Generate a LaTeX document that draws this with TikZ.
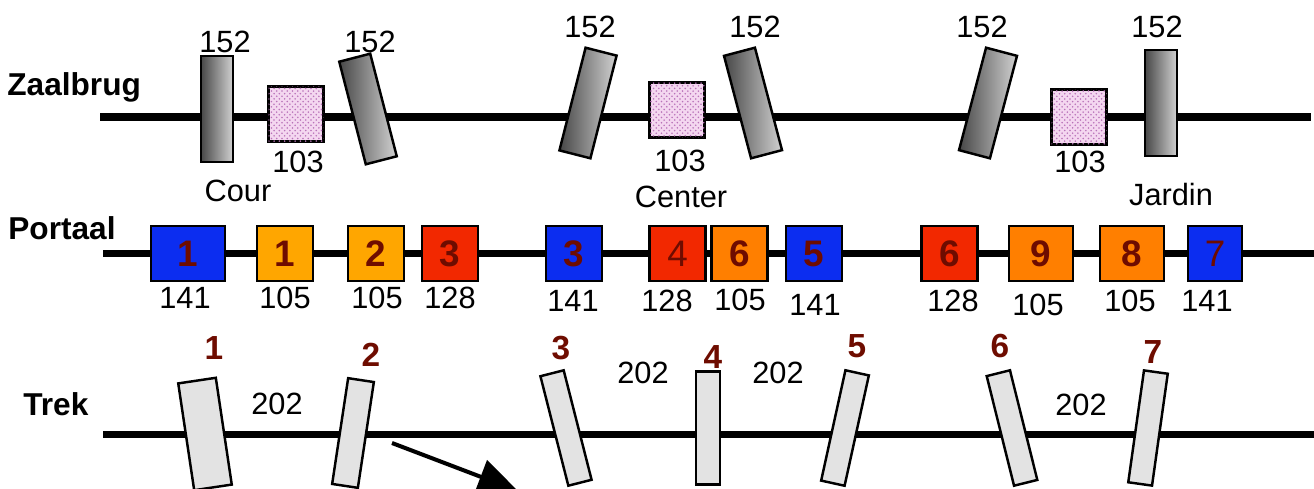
\documentclass[tikz,border=0pt]{standalone}
\usepackage{fontspec}
\setmainfont{Liberation Sans}
\usetikzlibrary{positioning,arrows.meta,patterns}

\definecolor{lampblue}{RGB}{12,45,240}
\definecolor{lampamber}{RGB}{255,166,0}
\definecolor{lamporange}{RGB}{255,127,0}
\definecolor{lampred}{RGB}{242,40,0}
\definecolor{numred}{RGB}{110,12,0}
\definecolor{specpink}{RGB}{244,215,240}

\begin{document}
\begin{tikzpicture}[x=0.02cm, y=-0.02cm,
	rail/.style={line width=4.4pt},
	txt/.style={font=\fontsize{17.5}{20}\selectfont, inner sep=0pt},
	rowname/.style={font=\fontsize{18}{21}\selectfont\bfseries, inner sep=0pt, anchor=base west},
	bar/.style={draw, line width=1.4pt, inner sep=0pt, minimum width=0.64cm, minimum height=2.12cm, left color=black!72, right color=black!18},
	scroller/.style={draw, line width=1.4pt, inner sep=0pt, minimum size=1.1cm, fill=specpink, postaction={pattern=crosshatch dots, pattern color=violet!55}},
	lamp/.style={draw, line width=1.4pt, inner sep=0pt, minimum height=1.1cm, minimum width=1.12cm, fill=#1, text=numred, font=\fontsize{21}{24}\selectfont\bfseries},
	flood/.style={draw, line width=1.4pt, inner sep=0pt, minimum width=0.48cm, minimum height=2.26cm, fill=black!11},
	tnum/.style={font=\fontsize{19}{22}\selectfont\bfseries, text=numred, inner sep=0pt}]
\useasboundingbox (0,0) rectangle (1314,489);

\coordinate (zl) at (100,117);	\coordinate (zr) at (1311,117);
\coordinate (pl) at (103,253.5);	\coordinate (pr) at (1314,253.5);
\coordinate (tl) at (103,434.5);	\coordinate (tr) at (1314,434.5);
\draw[rail] (zl) -- (zr);
\draw[rail] (pl) -- (pr);
\draw[rail] (tl) -- (tr);

\node[rowname]	(n_z)	at (7,96)	{Zaalbrug};
\node[rowname]	(n_p)	at (8,240)	{Portaal};
\node[rowname]	(n_t)	at (23,415)	{Trek};

\node[bar]					(z_1)	at (217,109)	{};
\node[scroller]				(z_2)	at (296,114)	{};
\node[bar, rotate=14.5]		(z_3)	at (368,109)	{};
\node[bar, rotate=-14.3]	(z_4)	at (588,103)	{};
\node[scroller]				(z_5)	at (677,110)	{};
\node[bar, rotate=14.8]		(z_6)	at (753,103)	{};
\node[bar, rotate=-14.8]	(z_7)	at (988,103)	{};
\node[scroller]				(z_8)	at (1079,117)	{};
\node[bar]					(z_9)	at (1161,103)	{};

\node[txt]	(zl_1)	at (225,42)		{152};
\node[txt]	(zl_2)	at (298,162)	{103};
\node[txt]	(zl_3)	at (370,42)		{152};
\node[txt]	(zl_4)	at (590,27)		{152};
\node[txt]	(zl_5)	at (680,161)	{103};
\node[txt]	(zl_6)	at (755,27)		{152};
\node[txt]	(zl_7)	at (982,27)		{152};
\node[txt]	(zl_8)	at (1080,162)	{103};
\node[txt]	(zl_9)	at (1157,27)	{152};
\node[txt]	(cour)		at (238,191)	{Cour};
\node[txt]	(center)	at (681,197)	{Center};
\node[txt]	(jardin)	at (1171,195)	{Jardin};

\node[lamp=lampblue, minimum width=1.48cm]		(p_1)	at (188,253.5)		{1};
\node[lamp=lampamber]							(p_2)	at (285,253.5)		{1};
\node[lamp=lampamber]							(p_3)	at (376,253.5)		{2};
\node[lamp=lampred]								(p_4)	at (450,253.5)		{3};
\node[lamp=lampblue]							(p_5)	at (574,253.5)		{3};
\node[lamp=lampred, font=\fontsize{21}{24}\selectfont]	(p_6)	at (677.5,253.5)	{4};
\node[lamp=lamporange]							(p_7)	at (739.5,253.5)	{6};
\node[lamp=lampblue]							(p_8)	at (814,253.5)		{5};
\node[lamp=lampred]								(p_9)	at (949.5,253.5)	{6};
\node[lamp=lamporange, minimum width=1.28cm]	(p_10)	at (1041,253.5)		{9};
\node[lamp=lamporange, minimum width=1.28cm]	(p_11)	at (1132,253.5)		{8};
\node[lamp=lampblue, minimum width=1.08cm, font=\fontsize{21}{24}\selectfont]	(p_12)	at (1215,253.5)	{7};

\node[txt]	(pl_1)	at (185,298)	{141};
\node[txt]	(pl_2)	at (285,298)	{105};
\node[txt]	(pl_3)	at (377,298)	{105};
\node[txt]	(pl_4)	at (450,298)	{128};
\node[txt]	(pl_5)	at (573,301)	{141};
\node[txt]	(pl_6)	at (667,301)	{128};
\node[txt]	(pl_7)	at (740,300)	{105};
\node[txt]	(pl_8)	at (815,305)	{141};
\node[txt]	(pl_9)	at (953,301)	{128};
\node[txt]	(pl_10)	at (1038,305)	{105};
\node[txt]	(pl_11)	at (1130,301)	{105};
\node[txt]	(pl_12)	at (1207,301)	{141};

\node[flood, rotate=8.5, minimum width=0.76cm, minimum height=2.16cm]	(t_1)	at (205,434)	{};
\node[flood, rotate=-8.6, minimum width=0.52cm, minimum height=2.14cm]	(t_2)	at (353,433)	{};
\node[flood, rotate=14.3]	(t_3)	at (566,428)	{};
\node[flood]				(t_4)	at (708,428)	{};
\node[flood, rotate=-12.4]	(t_5)	at (845,428)	{};
\node[flood, rotate=14]		(t_6)	at (1012,428)	{};
\node[flood, rotate=-8]		(t_7)	at (1148,428)	{};

\node[tnum]	(tn_1)	at (214,348)	{1};
\node[tnum]	(tn_2)	at (371,355)	{2};
\node[tnum]	(tn_3)	at (561,348)	{3};
\node[tnum]	(tn_4)	at (713,357)	{4};
\node[tnum]	(tn_5)	at (857,346)	{5};
\node[tnum]	(tn_6)	at (1000,346)	{6};
\node[tnum]	(tn_7)	at (1153,352)	{7};

\node[txt]	(tl_1)	at (277,404)	{202};
\node[txt]	(tl_2)	at (643,373)	{202};
\node[txt]	(tl_3)	at (778,373)	{202};
\node[txt]	(tl_4)	at (1081,405)	{202};

\coordinate (a_s) at (392,443);
\coordinate (a_e) at (518,491);
\draw[line width=2.3pt, -{Triangle[length=0.8cm,width=0.7cm]}] (a_s) -- (a_e);
\end{tikzpicture}
\end{document}
